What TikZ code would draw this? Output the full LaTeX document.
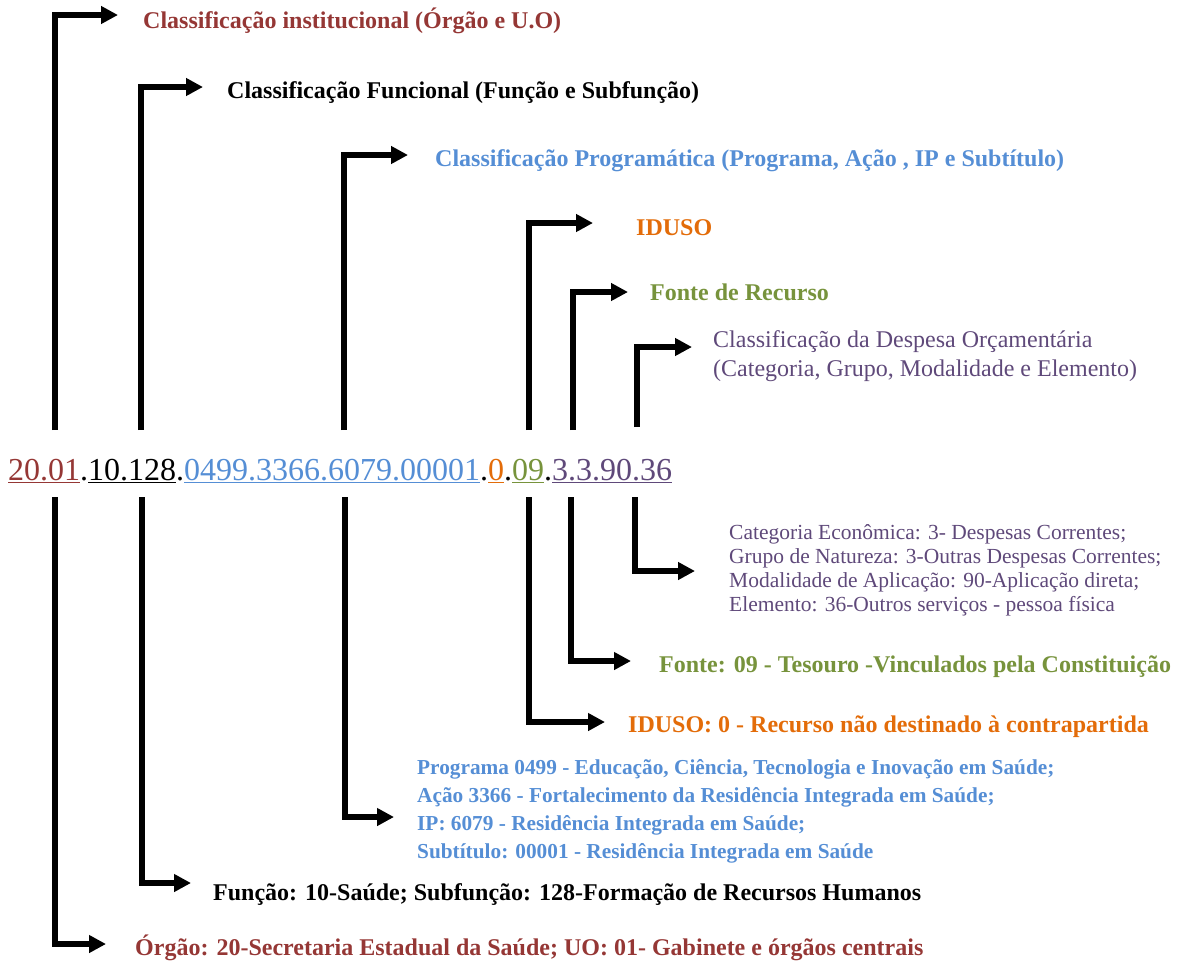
\documentclass[tikz,border=0pt]{standalone}
\usepackage{fontspec}
\setmainfont{Liberation Serif}
\usetikzlibrary{arrows.meta}
\definecolor{cred}{HTML}{953735}
\definecolor{cblue}{HTML}{558ED5}
\definecolor{corange}{HTML}{E36C09}
\definecolor{cgreen}{HTML}{77933C}
\definecolor{cpurple}{HTML}{5F497A}
\newcommand\codeseg[2]{\textcolor{#1}{\underline{#2}}}
\begin{document}
\begin{tikzpicture}[x=1pt,y=-1pt,
  conn/.style={line width=5.5pt, line join=miter, -{Triangle[length=17pt,width=17pt]}},
  lbl/.style={anchor=base west, inner sep=0pt, font=\fontsize{24}{28}\selectfont\bfseries},
  reg/.style={anchor=base west, inner sep=0pt, align=left, font=\fontsize{24}{29}\selectfont},
  small/.style={anchor=base west, inner sep=0pt, align=left, font=\fontsize{21.5}{23.7}\selectfont},
  blist/.style={anchor=base west, inner sep=0pt, align=left, font=\fontsize{21.3}{28}\selectfont\bfseries}]
\useasboundingbox (0,0) rectangle (1190,962);

% code line
\node[anchor=base west, inner sep=0pt, font=\fontsize{32}{38}\selectfont] (code) at (8,480)
 {\codeseg{cred}{20.01}.\codeseg{black}{10.128}.\codeseg{cblue}{0499.3366.6079.00001}.\codeseg{corange}{0}.\codeseg{cgreen}{09}.\codeseg{cpurple}{3.3.90.36}};

% top labels
\node[lbl, text=cred] (t1) at (143,28) {Classificação institucional (Órgão e U.O)};
\node[lbl, text=black] (t2) at (227,98) {Classificação Funcional (Função e Subfunção)};
\node[lbl, text=cblue] (t3) at (435,166) {Classificação Programática (Programa, Ação , IP e Subtítulo)};
\node[lbl, text=corange] (t4) at (636,235) {IDUSO};
\node[lbl, text=cgreen] (t5) at (650,300) {Fonte de Recurso};
\node[reg, text=cpurple] (t6) at (713,376) {Classificação da Despesa Orçamentária\\(Categoria, Grupo, Modalidade e Elemento)};

% bottom labels
\node[small, text=cpurple] (b6) at (729,611) {Categoria Econômica: 3- Despesas Correntes;\\Grupo de Natureza: 3-Outras Despesas Correntes;\\Modalidade de Aplicação: 90-Aplicação direta;\\Elemento: 36-Outros serviços - pessoa física};
\node[lbl, text=cgreen] (b5) at (659,672) {Fonte: 09 - Tesouro -Vinculados pela Constituição};
\node[lbl, text=corange] (b4) at (628,732) {IDUSO: 0 - Recurso não destinado à contrapartida};
\node[blist, text=cblue] (b3) at (417,858) {Programa 0499 - Educação, Ciência, Tecnologia e Inovação em Saúde;\\Ação 3366 - Fortalecimento da Residência Integrada em Saúde;\\IP: 6079 - Residência Integrada em Saúde;\\Subtítulo: 00001 - Residência Integrada em Saúde};
\node[lbl, text=black] (b2) at (213,900) {Função: 10-Saúde; Subfunção: 128-Formação de Recursos Humanos};
\node[lbl, text=cred] (b1) at (135,955) {Órgão: 20-Secretaria Estadual da Saúde; UO: 01- Gabinete e órgãos centrais};

% connector coordinates
\coordinate (u1) at (55,430);  \coordinate (ua1) at (118,15);
\coordinate (u2) at (141,430); \coordinate (ua2) at (203,87);
\coordinate (u3) at (344,430); \coordinate (ua3) at (408,155);
\coordinate (u4) at (529,430); \coordinate (ua4) at (593,223);
\coordinate (u5) at (573,430); \coordinate (ua5) at (628,292);
\coordinate (u6) at (637,427); \coordinate (ua6) at (692,347);

\coordinate (d1) at (55,497);  \coordinate (da1) at (106,944);
\coordinate (d2) at (142,497); \coordinate (da2) at (191,883);
\coordinate (d3) at (345,497); \coordinate (da3) at (394,817);
\coordinate (d4) at (529,497); \coordinate (da4) at (605,722);
\coordinate (d5) at (571,497); \coordinate (da5) at (631,661);
\coordinate (d6) at (635,497); \coordinate (da6) at (695,571);

\foreach \i in {1,...,6}{
  \draw[conn] (u\i) |- (ua\i);
  \draw[conn] (d\i) |- (da\i);
}
\end{tikzpicture}
\end{document}
